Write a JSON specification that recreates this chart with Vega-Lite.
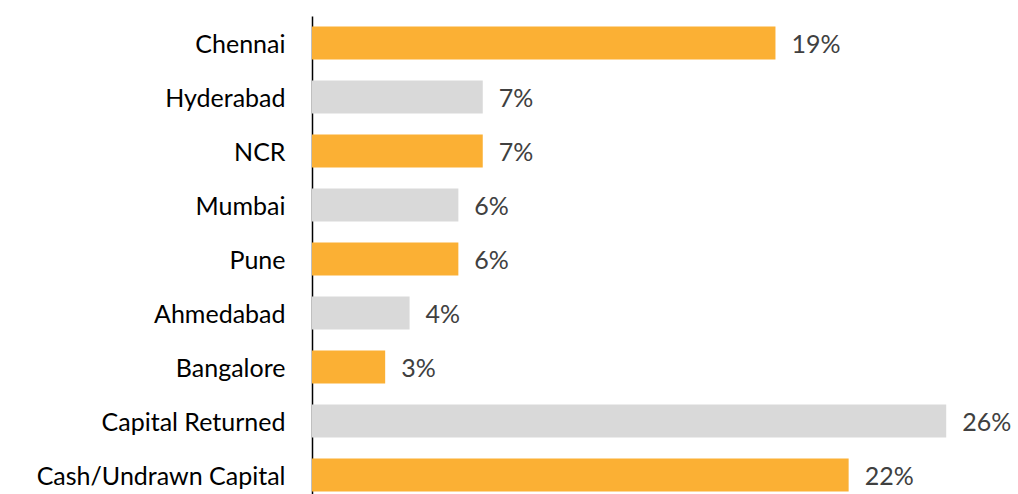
{
  "$schema": "https://vega.github.io/schema/vega-lite/v6.json",
  "autosize": "none",
  "padding": {"left": 312, "top": 16, "right": 23, "bottom": 0},
  "width": 683,
  "height": 486,
  "background": "white",
  "data": {"values": [
    {"city": "Chennai", "pct": 0.19, "grp": "A"},
    {"city": "Hyderabad", "pct": 0.07, "grp": "B"},
    {"city": "NCR", "pct": 0.07, "grp": "A"},
    {"city": "Mumbai\u00a0", "pct": 0.06, "grp": "B"},
    {"city": "Pune", "pct": 0.06, "grp": "A"},
    {"city": "Ahmedabad", "pct": 0.04, "grp": "B"},
    {"city": "Bangalore", "pct": 0.03, "grp": "A"},
    {"city": "Capital Returned", "pct": 0.26, "grp": "B"},
    {"city": "Cash/Undrawn Capital", "pct": 0.22, "grp": "A"}
  ]},
  "config": {"view": {"stroke": null}},
  "encoding": {
    "y": {"field": "city", "type": "nominal", "sort": null, "title": null,
      "scale": {"paddingInner": 0.39, "paddingOuter": 0.195},
      "axis": {"ticks": false, "domainColor": "#000000", "domainWidth": 1.5, "labelFont": "Lato", "labelFontSize": 25, "labelFontWeight": "normal", "labelColor": "#000000", "labelPadding": 27, "labelLimit": 0, "labelOffset": 1.5}},
    "x": {"field": "pct", "type": "quantitative", "title": null,
      "scale": {"domain": [0, 0.28], "nice": false},
      "axis": null}
  },
  "layer": [
    {"mark": {"type": "bar"},
      "encoding": {"color": {"field": "grp", "type": "nominal", "legend": null,
        "scale": {"domain": ["A", "B"], "range": ["#FBB034", "#D9D9D9"]}}}},
    {"mark": {"type": "text", "align": "left", "dx": 16, "dy": 2, "font": "Lato", "fontSize": 25, "color": "#404040"},
      "encoding": {"text": {"field": "pct", "type": "quantitative", "format": ".0%"}}}
  ]
}
